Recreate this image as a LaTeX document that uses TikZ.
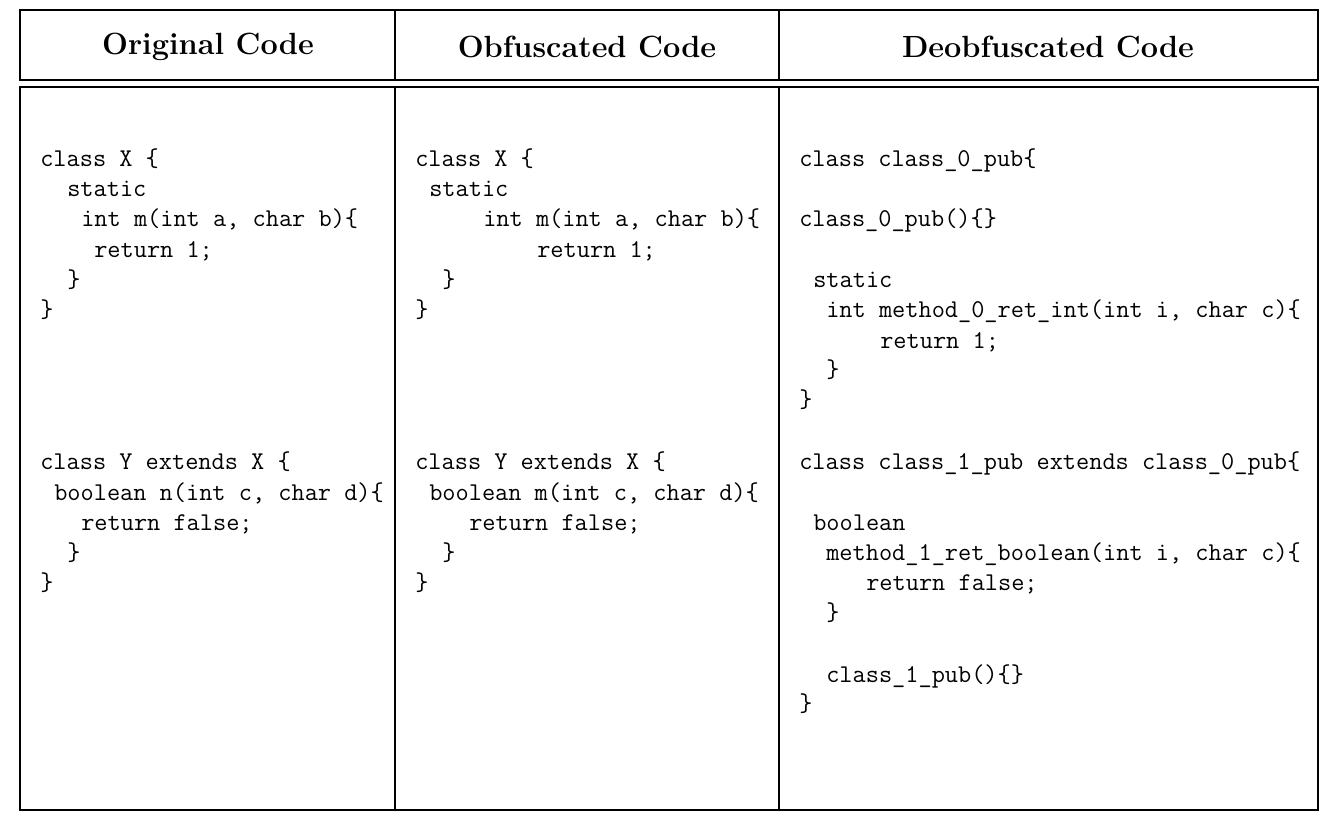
\documentclass[tikz,border=0pt]{standalone}
\begin{document}
\begin{tikzpicture}[x=0.75pt,y=-0.75pt,
  code/.style={anchor=base west,inner sep=0pt,font=\fontsize{19.2}{23}\selectfont\ttfamily},
  head/.style={anchor=center,inner sep=0pt,font=\fontsize{23}{27}\selectfont\bfseries},
  rule/.style={line width=1.3pt}]
\useasboundingbox (0,0) rectangle (1338,822);
\draw[rule] (20,10) rectangle (1318,80);
\draw[rule] (20,87) rectangle (1318,810);
\draw[rule] (395,10) -- (395,80) (779,10) -- (779,80);
\draw[rule] (395,87) -- (395,810) (779,87) -- (779,810);
\node[head] (h1) at (208,47) {Original Code};
\node[head] (h2) at (587,47) {Obfuscated Code};
\node[head] (h3) at (1048,47) {Deobfuscated Code};
% column 1
\node[code] (a1) at (40,166) {class X \{};
\node[code] (a2) at (67,196) {static};
\node[code] (a3) at (81,226) {int m(int a, char b)\{};
\node[code] (a4) at (94,257) {return 1;};
\node[code] (a5) at (67,287) {\}};
\node[code] (a6) at (40,317) {\}};
\node[code] (a7) at (40,469) {class Y extends X \{};
\node[code] (a8) at (54,500) {boolean n(int c, char d)\{};
\node[code] (a9) at (81,530) {return false;};
\node[code] (a10) at (67,560) {\}};
\node[code] (a11) at (40,590) {\}};
% column 2
\node[code] (b1) at (415,166) {class X \{};
\node[code] (b2) at (429,196) {static};
\node[code] (b3) at (483,226) {int m(int a, char b)\{};
\node[code] (b4) at (537,257) {return 1;};
\node[code] (b5) at (442,287) {\}};
\node[code] (b6) at (415,317) {\}};
\node[code] (b7) at (415,469) {class Y extends X \{};
\node[code] (b8) at (429,500) {boolean m(int c, char d)\{};
\node[code] (b9) at (469,530) {return false;};
\node[code] (b10) at (442,560) {\}};
\node[code] (b11) at (415,590) {\}};
% column 3
\node[code] (c1) at (799,166) {class class\_0\_pub\{};
\node[code] (c2) at (799,226) {class\_0\_pub()\{\}};
\node[code] (c3) at (813,287) {static};
\node[code] (c4) at (826,317) {int method\_0\_ret\_int(int i, char c)\{};
\node[code] (c5) at (880,348) {return 1;};
\node[code] (c6) at (826,377) {\}};
\node[code] (c7) at (799,407) {\}};
\node[code] (c8) at (799,469) {class class\_1\_pub extends class\_0\_pub\{};
\node[code] (c9) at (813,530) {boolean};
\node[code] (c10) at (826,560) {method\_1\_ret\_boolean(int i, char c)\{};
\node[code] (c11) at (866,590) {return false;};
\node[code] (c12) at (826,620) {\}};
\node[code] (c13) at (826,682) {class\_1\_pub()\{\}};
\node[code] (c14) at (799,711) {\}};
\end{tikzpicture}
\end{document}
